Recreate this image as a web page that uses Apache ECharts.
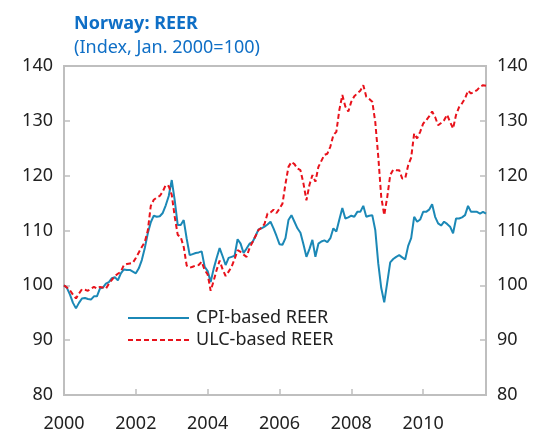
<!DOCTYPE html>
<html>
<head>
<meta charset="utf-8">
<script src="https://cdn.jsdelivr.net/npm/echarts@6/dist/echarts.min.js"></script>
<style>
html,body{margin:0;padding:0;background:#fff;}
#chart{width:539px;height:434px;}
</style>
</head>
<body>
<div id="chart"></div>
<script>
// Monthly observations, Jan 2000 .. Oct 2011
var startYear = 2000;
var nMonths = 142;
var yTicks = [80, 90, 100, 110, 120, 130, 140];
var seriesNames = ["CPI-based REER", "ULC-based REER"];

var cpi = [
100.0, 99.5, 98.3, 96.8, 95.8, 96.8, 97.6, 97.7, 97.5, 97.4, 98.0, 98.0,
99.4, 99.6, 100.3, 100.6, 101.3, 101.5, 100.9, 102.2, 102.9, 102.8, 102.8, 102.5,
102.2, 103.1, 104.6, 106.8, 109.5, 111.5, 112.7, 112.5, 112.6, 113.2, 114.6, 116.3,
119.2, 115.5, 111.0, 111.0, 111.9, 108.5, 105.5, 105.7, 105.9, 106.0, 106.2, 103.4,
102.6, 100.6, 103.0, 105.0, 106.8, 105.3, 103.7, 105.0, 105.2, 105.4, 108.4, 107.6,
105.9, 106.7, 107.6, 107.9, 109.0, 110.2, 110.4, 110.7, 111.1, 111.6, 110.4, 109.0,
107.5, 107.4, 108.6, 111.9, 112.8, 111.6, 110.4, 109.6, 107.5, 105.2, 106.6, 108.3,
105.2, 107.6, 108.0, 108.2, 107.9, 108.6, 110.4, 109.8, 112.0, 114.1, 112.2, 112.4,
112.7, 112.5, 113.4, 113.4, 114.5, 112.5, 112.7, 112.8, 110.1, 104.0, 99.5, 96.9,
100.5, 104.2, 104.8, 105.2, 105.5, 105.1, 104.7, 107.2, 108.6, 112.5, 111.6, 112.0,
113.4, 113.4, 113.8, 114.8, 112.5, 111.3, 110.9, 111.6, 111.2, 110.7, 109.5, 112.2,
112.2, 112.4, 112.8, 114.5, 113.4, 113.4, 113.4, 113.1, 113.4, 113.1
];

var ulc = [
100.0, 99.6, 99.1, 98.3, 97.6, 98.5, 99.3, 99.2, 99.0, 99.4, 99.7, 99.4,
99.7, 99.6, 99.4, 100.3, 101.0, 101.7, 102.1, 102.5, 103.7, 103.9, 104.0, 104.1,
105.0, 106.0, 107.0, 107.9, 110.0, 114.5, 115.6, 116.0, 116.3, 117.1, 118.3, 118.1,
116.5, 112.5, 109.2, 108.8, 107.0, 103.6, 103.2, 103.4, 103.6, 103.7, 104.3, 102.8,
102.0, 99.0, 100.8, 102.8, 104.5, 102.9, 101.7, 102.5, 103.4, 104.8, 106.4, 106.1,
105.6, 105.2, 106.8, 107.9, 109.0, 110.1, 110.5, 111.2, 113.1, 113.3, 113.8, 113.2,
114.0, 114.9, 118.5, 121.6, 122.5, 122.1, 121.3, 121.0, 118.6, 115.5, 118.3, 120.1,
118.9, 121.6, 122.7, 123.8, 124.0, 125.3, 127.4, 128.0, 132.0, 134.7, 132.6, 131.7,
133.5, 134.5, 135.0, 135.5, 136.5, 134.4, 134.0, 133.5, 129.8, 123.5, 116.1, 112.8,
116.1, 120.1, 121.1, 121.0, 121.0, 119.5, 119.5, 121.9, 123.3, 127.7, 126.8, 128.0,
129.5, 130.1, 130.8, 131.7, 130.7, 129.2, 129.6, 130.1, 131.1, 129.8, 128.6, 131.1,
132.5, 133.2, 134.1, 135.5, 135.0, 135.3, 135.6, 136.2, 136.5, 136.4
];

var months = [];
for (var i = 0; i < nMonths; i++) {
  var y = startYear + Math.floor(i / 12);
  var m = (i % 12) + 1;
  months.push(y + "-" + (m < 10 ? "0" + m : m));
}

var axisColor = "#bfbfbf";
var textColor = "#222222";
var fontFam = "'Noto Sans', 'Open Sans', sans-serif";

var chart = echarts.init(document.getElementById("chart"), null, {renderer: "canvas"});
var yAxisBase = function (pos) {
  return {
    type: "value",
    position: pos,
    min: yTicks[0],
    max: yTicks[yTicks.length - 1],
    interval: 10,
    splitLine: {show: false},
    axisLine: {show: true, lineStyle: {color: axisColor, width: 2}},
    axisTick: {show: true, inside: true, length: 6, lineStyle: {color: axisColor, width: 1.5}},
    axisLabel: {color: textColor, fontSize: 18, fontFamily: fontFam, margin: 11}
  };
};

chart.setOption({
  animation: false,
  backgroundColor: "#ffffff",
  title: {
    text: "Norway: REER",
    subtext: "(Index, Jan. 2000=100)",
    left: 69,
    top: 10,
    itemGap: 6,
    textStyle: {color: "#0F6FC6", fontSize: 18, fontWeight: "bold", fontFamily: fontFam},
    subtextStyle: {color: "#0F6FC6", fontSize: 18, fontFamily: fontFam}
  },
  grid: {
    left: 64, right: 53, top: 66, bottom: 39,
    show: true, borderColor: axisColor, borderWidth: 2, backgroundColor: "transparent"
  },
  legend: {
    orient: "vertical",
    left: 122,
    top: 304,
    itemWidth: 61,
    itemHeight: 14,
    itemGap: 4,
    itemStyle: {opacity: 0},
    textStyle: {color: textColor, fontSize: 18, fontFamily: fontFam, padding: [0, 0, 0, 2]},
    data: seriesNames
  },
  xAxis: {
    type: "category",
    boundaryGap: false,
    data: months,
    axisLine: {show: true, lineStyle: {color: axisColor, width: 2}},
    axisTick: {show: true, inside: true, length: 6, lineStyle: {color: axisColor, width: 1.5},
      interval: function (idx) { return idx % 24 === 0; }},
    axisLabel: {color: textColor, fontSize: 18, fontFamily: fontFam, margin: 20,
      interval: function (idx) { return idx % 24 === 0; },
      formatter: function (v) { return v.slice(0, 4); }},
    splitLine: {show: false}
  },
  yAxis: [yAxisBase("left"), yAxisBase("right")],
  series: [
    {
      name: seriesNames[0], type: "line", data: cpi, yAxisIndex: 0,
      symbol: "none", smooth: false,
      lineStyle: {color: "#1B88B6", width: 2},
      itemStyle: {color: "#1B88B6"}
    },
    {
      name: seriesNames[1], type: "line", data: ulc, yAxisIndex: 0,
      symbol: "none", smooth: false,
      lineStyle: {color: "#E8121B", width: 2, type: [5, 3]},
      itemStyle: {color: "#E8121B"}
    }
  ]
});
</script>
</body>
</html>
